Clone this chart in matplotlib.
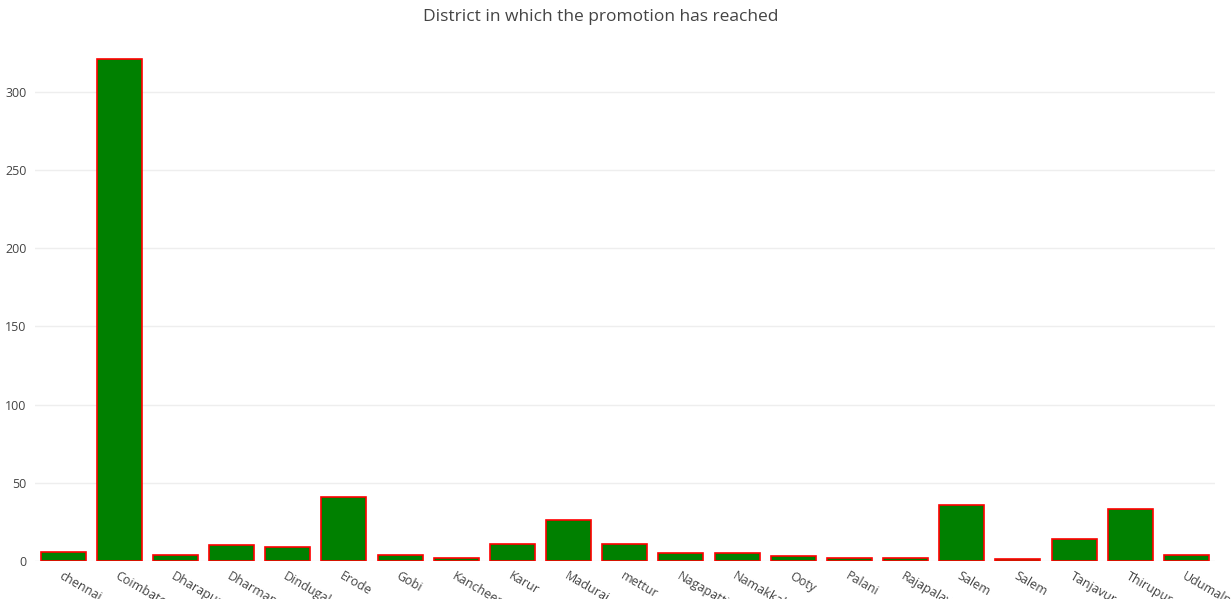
import numpy as np
import matplotlib
matplotlib.use("Agg")
import matplotlib.pyplot as plt

# districts (Salem appears twice in the source data)
districts = ["chennai", "Coimbatore", "Dharapuram", "Dharmapuri", "Dindugal", "Erode",
             "Gobi", "Kancheepuram", "Karur", "Madurai", "mettur", "Nagapattinam",
             "Namakkal", "Ooty", "Palani", "Rajapalayam", "Salem", "Salem",
             "Tanjavur", "Thirupur", "Udumalpet"]
counts = [6, 321, 4, 10, 9, 41, 4, 2, 11, 26, 11, 5, 5, 3, 2, 2, 36, 1, 14, 33, 4]
yticks = [0, 50, 100, 150, 200, 250, 300]

plt.rcParams['font.family'] = ['Open Sans', 'DejaVu Sans']

fig = plt.figure(figsize=(12.31, 5.99), dpi=100)
ax = fig.add_axes([35/1231, 38/599, (1214.5-35)/1231, (561-34)/599])

x = np.arange(len(districts))
ax.bar(x, counts, width=0.8, color="green", edgecolor="red", linewidth=1.2, zorder=3)

ax.set_xlim(-0.5, len(districts) - 0.5)
ax.set_ylim(0, max(counts) * 1.05)
ax.set_yticks(yticks)
ax.set_yticklabels([str(v) for v in yticks], color="#444444", fontsize=9)
ax.set_xticks(x)
ax.set_xticklabels(districts, rotation=-30, ha="left", va="top",
                   rotation_mode="anchor", color="#444444", fontsize=9)
ax.tick_params(axis="both", length=0, pad=6)
ax.yaxis.grid(True, color="#eeeeee", linewidth=1, zorder=0)
for s in ax.spines.values():
    s.set_visible(False)

fig.text(0.488, 1 - 17/599, "District in which the promotion has reached",
         ha="center", va="center", fontsize=12.5, color="#444444")

fig.savefig("out.png", dpi=100)
